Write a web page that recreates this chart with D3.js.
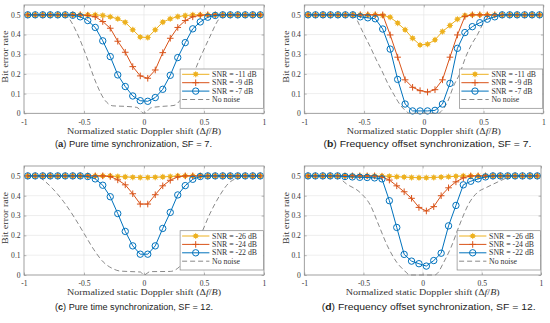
<!DOCTYPE html>
<html><head><meta charset="utf-8">
<script src="https://cdn.jsdelivr.net/npm/d3@7"></script>
<style>body{margin:0;background:#fff}</style>
</head><body><svg id="c" width="550" height="323" xmlns="http://www.w3.org/2000/svg"></svg>
<script>
// ---------------- data ----------------
const dopplerShift = [-0.96875,-0.90625,-0.84375,-0.78125,-0.71875,-0.65625,-0.59375,-0.53125,-0.46875,-0.40625,-0.34375,-0.28125,-0.21875,-0.15625,-0.09375,-0.03125,0.03125,0.09375,0.15625,0.21875,0.28125,0.34375,0.40625,0.46875,0.53125,0.59375,0.65625,0.71875,0.78125,0.84375,0.90625,0.96875];

// (a) pure time sync, SF=7
const berA_snrLow  = [0.5,0.5,0.5,0.5,0.5,0.5,0.5,0.5,0.5,0.5,0.497,0.49,0.48,0.462,0.424,0.387,0.385,0.424,0.463,0.48,0.491,0.496,0.5,0.5,0.5,0.5,0.5,0.5,0.5,0.5,0.5,0.5];
const berA_snrMid  = [0.5,0.5,0.5,0.5,0.5,0.5,0.5,0.5,0.497,0.49,0.466,0.432,0.366,0.31,0.237,0.19,0.178,0.22,0.308,0.381,0.436,0.471,0.49,0.498,0.5,0.5,0.5,0.5,0.5,0.5,0.5,0.5];
const berA_snrHigh = [0.5,0.5,0.5,0.5,0.5,0.5,0.498,0.49,0.471,0.436,0.368,0.288,0.195,0.136,0.088,0.064,0.061,0.08,0.122,0.193,0.283,0.359,0.429,0.464,0.488,0.497,0.5,0.5,0.5,0.5,0.5,0.5];
const noNoiseA_x = [-1,-0.66,-0.63,-0.56,-0.48,-0.4,-0.33,-0.26,-0.15,-0.06,0,0.06,0.15,0.25,0.3,0.37,0.46,0.55,0.62,0.66,1];
const noNoiseA_y = [0.5,0.5,0.485,0.41,0.29,0.155,0.07,0.038,0.035,0.03,0,0.028,0.035,0.04,0.065,0.14,0.27,0.39,0.475,0.5,0.5];

// (b) frequency offset sync, SF=7
const berB_snrLow  = [0.5,0.5,0.5,0.5,0.5,0.5,0.5,0.5,0.5,0.5,0.497,0.488,0.458,0.424,0.381,0.347,0.351,0.373,0.415,0.446,0.478,0.497,0.5,0.5,0.5,0.5,0.5,0.5,0.5,0.5,0.5,0.5];
const berB_snrMid  = [0.5,0.5,0.5,0.5,0.5,0.5,0.5,0.5,0.5,0.5,0.5,0.398,0.285,0.17,0.132,0.115,0.108,0.12,0.17,0.285,0.398,0.492,0.5,0.5,0.5,0.5,0.5,0.5,0.5,0.5,0.5,0.5];
const berB_snrHigh = [0.5,0.5,0.5,0.5,0.5,0.5,0.5,0.49,0.485,0.48,0.428,0.326,0.172,0.047,0.012,0.012,0.012,0.015,0.047,0.152,0.33,0.41,0.44,0.46,0.478,0.49,0.5,0.5,0.5,0.5,0.5,0.5];
const noNoiseB_x = [-1,-0.6,-0.58,-0.54,-0.5,-0.45,-0.4,-0.35,-0.3,-0.25,-0.2,-0.15,-0.12,0.12,0.16,0.2,0.25,0.3,0.35,0.4,0.45,0.5,0.54,0.57,1];
const noNoiseB_y = [0.5,0.5,0.495,0.45,0.4,0.34,0.275,0.215,0.15,0.095,0.045,0.012,0,0,0.02,0.06,0.14,0.2,0.285,0.35,0.4,0.46,0.49,0.5,0.5];

// (c) pure time sync, SF=12
const berC_snrLow  = [0.5,0.5,0.5,0.5,0.5,0.5,0.5,0.5,0.5,0.5,0.5,0.5,0.497,0.495,0.493,0.492,0.492,0.493,0.495,0.497,0.5,0.5,0.5,0.5,0.5,0.5,0.5,0.5,0.5,0.5,0.5,0.5];
const berC_snrMid  = [0.5,0.5,0.5,0.5,0.5,0.5,0.5,0.5,0.5,0.5,0.5,0.497,0.48,0.455,0.41,0.358,0.358,0.405,0.45,0.478,0.495,0.5,0.5,0.5,0.5,0.5,0.5,0.5,0.5,0.5,0.5,0.5];
const berC_snrHigh = [0.5,0.5,0.5,0.5,0.5,0.5,0.5,0.5,0.497,0.485,0.453,0.395,0.31,0.22,0.147,0.105,0.105,0.147,0.235,0.316,0.404,0.451,0.483,0.497,0.5,0.5,0.5,0.5,0.5,0.5,0.5,0.5];
const noNoiseC_x = [-1,-0.9,-0.82,-0.76,-0.67,-0.58,-0.5,-0.42,-0.34,-0.26,-0.2,-0.1,-0.03,0,0.05,0.22,0.3,0.38,0.47,0.55,0.63,0.7,0.78,0.85,1];
const noNoiseC_y = [0.5,0.5,0.47,0.435,0.37,0.29,0.21,0.13,0.066,0.032,0.02,0.017,0.015,0,0.017,0.018,0.044,0.11,0.2,0.31,0.4,0.46,0.49,0.5,0.5];

// (d) frequency offset sync, SF=12
const berD_snrLow  = [0.5,0.5,0.5,0.5,0.5,0.5,0.5,0.5,0.5,0.5,0.5,0.498,0.496,0.494,0.492,0.491,0.491,0.492,0.494,0.496,0.498,0.5,0.5,0.5,0.5,0.5,0.5,0.5,0.5,0.5,0.5,0.5];
const berD_snrMid  = [0.5,0.5,0.5,0.5,0.5,0.5,0.5,0.5,0.5,0.5,0.495,0.479,0.45,0.42,0.387,0.341,0.323,0.345,0.4,0.44,0.47,0.49,0.5,0.5,0.5,0.5,0.5,0.5,0.5,0.5,0.5,0.5];
const berD_snrHigh = [0.5,0.5,0.5,0.5,0.5,0.497,0.495,0.493,0.492,0.49,0.485,0.375,0.24,0.104,0.07,0.057,0.045,0.073,0.11,0.248,0.351,0.455,0.473,0.485,0.495,0.5,0.5,0.5,0.5,0.5,0.5,0.5];
const noNoiseD_x = [-1,-0.74,-0.64,-0.53,-0.44,-0.37,-0.3,-0.22,-0.15,-0.11,0.1,0.13,0.17,0.24,0.31,0.39,0.46,0.54,0.63,0.71,0.76,1];
const noNoiseD_y = [0.5,0.5,0.458,0.417,0.35,0.25,0.15,0.065,0.02,0,0,0.012,0.055,0.14,0.25,0.36,0.415,0.442,0.468,0.49,0.5,0.5];

const xTicks = [-1,-0.5,0,0.5,1];
const xTickLabels = ["-1","-0.5","0","0.5","1"];
const yTicks = [0,0.1,0.2,0.3,0.4,0.5];
const yTickLabels = ["0","0.1","0.2","0.3","0.4","0.5"];
const legendSF7  = ["SNR = -11 dB","SNR = -9 dB","SNR = -7 dB","No noise"];
const legendSF12 = ["SNR = -26 dB","SNR = -24 dB","SNR = -22 dB","No noise"];
const captionLetters = ["a","b","c","d"];
const captionTexts = [" Pure time synchronization, SF = 7."," Frequency offset synchronization, SF = 7."," Pure time synchronization, SF = 12."," Frequency offset synchronization, SF = 12."];

// ---------------- layout / style ----------------
const COL = {low:"#EDB120", mid:"#D95319", high:"#0072BD", none:"#6b6b6b"};
const SERIF = "'Liberation Serif','DejaVu Serif',serif";
const SANS = "'Liberation Sans','DejaVu Sans',sans-serif";

const panels = [
  {x0:24,    x1:264,   yTop:5,   yBot:113.3, s:[berA_snrLow,berA_snrMid,berA_snrHigh], nx:noNoiseA_x, ny:noNoiseA_y, leg:legendSF7,  cx:133.5, cy:147.2, cw:157},
  {x0:304.3, x1:543.3, yTop:5,   yBot:113.3, s:[berB_snrLow,berB_snrMid,berB_snrHigh], nx:noNoiseB_x, ny:noNoiseB_y, leg:legendSF7,  cx:427.5, cy:147.2, cw:208},
  {x0:24,    x1:264,   yTop:166, yBot:275,   s:[berC_snrLow,berC_snrMid,berC_snrHigh], nx:noNoiseC_x, ny:noNoiseC_y, leg:legendSF12, cx:134,   cy:309.6, cw:158},
  {x0:304.3, x1:541,   yTop:166, yBot:275,   s:[berD_snrLow,berD_snrMid,berD_snrHigh], nx:noNoiseD_x, ny:noNoiseD_y, leg:legendSF12, cx:428.7, cy:309.6, cw:214}
];

const svg = d3.select("#c");
svg.append("rect").attr("width",550).attr("height",323).attr("fill","#fff");

function drawMarker(g, kind, cx, cy) {
  if (kind === 0) {
    g.append("circle").attr("cx",cx).attr("cy",cy).attr("r",2.3).attr("fill",COL.low);
    const r = 3.1, d = r*0.707;
    g.append("path").attr("d",`M${cx-r},${cy}H${cx+r}M${cx},${cy-r}V${cy+r}M${cx-d},${cy-d}L${cx+d},${cy+d}M${cx-d},${cy+d}L${cx+d},${cy-d}`)
      .attr("stroke",COL.low).attr("stroke-width",0.8).attr("fill","none");
  } else if (kind === 1) {
    const r = 3.3;
    g.append("path").attr("d",`M${cx-r},${cy}H${cx+r}M${cx},${cy-r}V${cy+r}`)
      .attr("stroke",COL.mid).attr("stroke-width",1).attr("fill","none");
  } else {
    g.append("circle").attr("cx",cx).attr("cy",cy).attr("r",3.2)
      .attr("fill","none").attr("stroke",COL.high).attr("stroke-width",1);
  }
}
const serColors = [COL.low, COL.mid, COL.high];

panels.forEach((p, pi) => {
  const x = d3.scaleLinear().domain([-1,1]).range([p.x0,p.x1]);
  const y = d3.scaleLinear().domain([0,0.55]).range([p.yBot,p.yTop]);
  const g = svg.append("g");

  // grid
  g.selectAll(".gx").data(xTicks.slice(1,-1)).join("line")
    .attr("x1",d=>x(d)).attr("x2",d=>x(d)).attr("y1",p.yTop).attr("y2",p.yBot)
    .attr("stroke","#e3e3e3").attr("stroke-width",0.6);
  g.selectAll(".gy").data(yTicks.slice(1)).join("line")
    .attr("x1",p.x0).attr("x2",p.x1).attr("y1",d=>y(d)).attr("y2",d=>y(d))
    .attr("stroke","#e3e3e3").attr("stroke-width",0.6);

  // no noise dashed
  const nd = p.nx.map((v,i)=>[v,p.ny[i]]);
  g.append("path").datum(nd)
    .attr("d", d3.line().x(d=>x(d[0])).y(d=>y(d[1])).curve(d3.curveMonotoneX))
    .attr("fill","none").attr("stroke",COL.none).attr("stroke-width",0.8).attr("stroke-dasharray","5,3");

  // series
  p.s.forEach((vals, si) => {
    const data = dopplerShift.map((v,i)=>[v, vals[i]]);
    g.append("path").datum(data)
      .attr("d", d3.line().x(d=>x(d[0])).y(d=>y(d[1])))
      .attr("fill","none").attr("stroke",serColors[si]).attr("stroke-width",1);
    const mg = g.append("g");
    data.forEach(d => drawMarker(mg, si, x(d[0]), y(d[1])));
  });

  // axes ticks
  const axStyle = sel => {
    sel.select(".domain").remove();
    sel.selectAll(".tick line").attr("stroke","#888").attr("stroke-width",0.6);
    sel.selectAll("text").attr("fill","#333").style("font-family",SERIF).style("font-size","7.6px");
  };
  g.append("g").attr("transform",`translate(0,${p.yBot})`)
    .call(d3.axisBottom(x).tickValues(xTicks).tickFormat((d,i)=>xTickLabels[i]).tickSizeInner(-2.4).tickSizeOuter(0).tickPadding(6.1))
    .call(axStyle);
  g.append("g").attr("transform",`translate(0,${p.yTop})`)
    .call(d3.axisTop(x).tickValues(xTicks).tickFormat("").tickSizeInner(-2.4).tickSizeOuter(0))
    .call(axStyle);
  g.append("g").attr("transform",`translate(${p.x0},0)`)
    .call(d3.axisLeft(y).tickValues(yTicks).tickFormat((d,i)=>yTickLabels[i]).tickSizeInner(-2.4).tickSizeOuter(0).tickPadding(3.4))
    .call(axStyle);
  g.append("g").attr("transform",`translate(${p.x1},0)`)
    .call(d3.axisRight(y).tickValues(yTicks).tickFormat("").tickSizeInner(-2.4).tickSizeOuter(0))
    .call(axStyle);

  // box
  g.append("rect").attr("x",p.x0).attr("y",p.yTop).attr("width",p.x1-p.x0).attr("height",p.yBot-p.yTop)
    .attr("fill","none").attr("stroke","#888").attr("stroke-width",0.8);

  // axis labels
  const xl = g.append("text").attr("x",(p.x0+p.x1)/2).attr("y",p.yBot+20.2)
    .attr("text-anchor","middle").attr("fill","#333").style("font-family",SERIF).style("font-size","8.6px")
    .attr("textLength",154).attr("lengthAdjust","spacingAndGlyphs");
  xl.append("tspan").text("Normalized static Doppler shift (\u0394");
  xl.append("tspan").attr("font-style","italic").text("f");
  xl.append("tspan").text("/");
  xl.append("tspan").attr("font-style","italic").text("B");
  xl.append("tspan").text(")");

  g.append("text").attr("transform",`translate(${p.x0-15.6},${(p.yTop+p.yBot)/2-2.5}) rotate(-90)`)
    .attr("text-anchor","middle").attr("fill","#333").style("font-family",SERIF).style("font-size","8px")
    .attr("textLength",52).attr("lengthAdjust","spacingAndGlyphs")
    .text("Bit error rate");

  // legend
  const lw = 83.3, lh = 39.3;
  const lx = p.x1 - lw - 0.6, ly = p.yBot - 5 - lh;
  const lg = g.append("g");
  lg.append("rect").attr("x",lx).attr("y",ly).attr("width",lw).attr("height",lh)
    .attr("fill","#fff").attr("stroke","#888").attr("stroke-width",0.7);
  p.leg.forEach((t, li) => {
    const yy = ly + 5.3 + li*8.4;
    if (li < 3) {
      lg.append("line").attr("x1",lx+2).attr("x2",lx+29.3).attr("y1",yy).attr("y2",yy)
        .attr("stroke",serColors[li]).attr("stroke-width",1);
      drawMarker(lg, li, lx+15.6, yy);
    } else {
      lg.append("line").attr("x1",lx+2).attr("x2",lx+29.3).attr("y1",yy).attr("y2",yy)
        .attr("stroke",COL.none).attr("stroke-width",0.8).attr("stroke-dasharray","5,3");
    }
    lg.append("text").attr("x",lx+32).attr("y",yy+2.6).attr("fill","#333")
      .style("font-family",SERIF).style("font-size","7.8px").text(t);
  });

  // caption
  const cap = svg.append("text").attr("x",p.cx).attr("y",p.cy).attr("text-anchor","middle")
    .attr("fill","#222").style("font-family",SANS).style("font-size","8.9px")
    .attr("textLength",p.cw).attr("lengthAdjust","spacingAndGlyphs");
  cap.append("tspan").text("(");
  cap.append("tspan").attr("font-weight","bold").text(captionLetters[pi]);
  cap.append("tspan").text(")" + captionTexts[pi]);
});
</script>
</body></html>
